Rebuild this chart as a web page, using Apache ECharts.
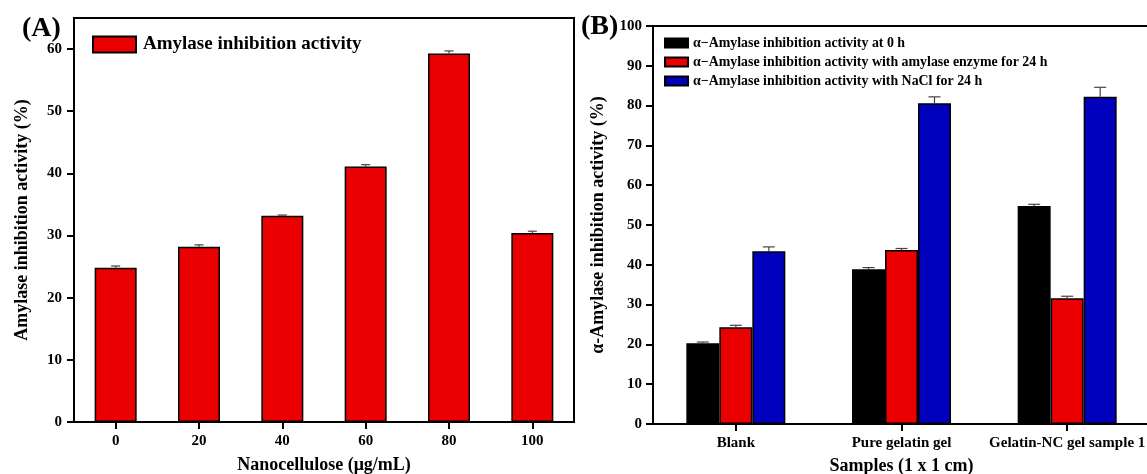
<!DOCTYPE html>
<html lang="en">
<head>
    <meta charset="UTF-8">
    <title>Amylase inhibition</title>
    <script src="https://cdn.jsdelivr.net/npm/echarts@6/dist/echarts.min.js"></script>
    <style>
        html, body { margin: 0; padding: 0; background: #fff; }
        #chart { width: 1147px; height: 474px; }
    </style>
</head>
<body>
<div id="chart"></div>
<script>
    // panel A
    var concLabels = ['0', '20', '40', '60', '80', '100'];
    var amylaseVals = [24.8, 28.2, 33.2, 41.1, 59.3, 30.4];
    var amylaseErr = [0.3, 0.3, 0.1, 0.3, 0.4, 0.3];
    var yTicksA = [0, 10, 20, 30, 40, 50, 60];

    // panel B
    var sampleLabels = ['Blank', 'Pure gelatin gel', 'Gelatin-NC gel sample 1'];
    var seriesNamesB = [
        'α−Amylase inhibition activity at 0 h',
        'α−Amylase inhibition activity with amylase enzyme for 24 h',
        'α−Amylase inhibition activity with NaCl for 24 h'
    ];
    var at0h = [20.3, 38.9, 54.8];
    var withEnzyme = [24.3, 43.7, 31.6];
    var withNaCl = [43.4, 80.6, 82.2];
    var at0hErr = [0.3, 0.4, 0.4];
    var withEnzymeErr = [0.5, 0.4, 0.5];
    var withNaClErr = [1.1, 1.6, 2.4];

    var FONT = '"Liberation Serif", "Times New Roman", serif';
    var chart = echarts.init(document.getElementById('chart'));

    function errSeries(name, xIdx, yIdx, vals, errs, offset, capW) {
        var data = vals.map(function (v, i) { return [i, v, errs[i]]; });
        return {
            name: name,
            type: 'custom',
            xAxisIndex: xIdx,
            yAxisIndex: yIdx,
            data: data,
            z: 5,
            silent: true,
            renderItem: function (params, api) {
                var top = api.coord([api.value(0), api.value(1)]);
                var hi = api.coord([api.value(0), api.value(1) + api.value(2)]);
                var x = top[0] + offset;
                var st = { stroke: '#444', lineWidth: 1.2 };
                return {
                    type: 'group',
                    children: [
                        { type: 'line', shape: { x1: x, y1: top[1], x2: x, y2: hi[1] }, style: st },
                        { type: 'line', shape: { x1: x - capW / 2, y1: hi[1], x2: x + capW / 2, y2: hi[1] }, style: st }
                    ]
                };
            }
        };
    }

    var axisLine = { show: true, lineStyle: { color: '#000', width: 2 } };
    var tickStyle = { show: true, inside: false, length: 7, lineStyle: { color: '#000', width: 2 } };
    var labelStyle = { color: '#000', fontFamily: FONT, fontWeight: 'bold', fontSize: 15 };
    var nameStyle = { color: '#000', fontFamily: FONT, fontWeight: 'bold', fontSize: 18 };

    var barBorder = { borderColor: '#000', borderWidth: 1.5 };

    chart.setOption({
        animation: false,
        backgroundColor: '#fff',
        title: [
            { text: '(A)', left: 17, top: 10, textStyle: { fontFamily: FONT, fontWeight: 'bold', fontSize: 28, color: '#000' } },
            { text: '(B)', left: 576, top: 8, textStyle: { fontFamily: FONT, fontWeight: 'bold', fontSize: 28, color: '#000' } }
        ],
        legend: [
            {
                data: ['Amylase inhibition activity'],
                icon: 'rect',
                left: 92, top: 35, padding: 0,
                itemWidth: 43, itemHeight: 16,
                itemGap: 6,
                textStyle: { fontFamily: FONT, fontWeight: 'bold', fontSize: 19, color: '#000', padding: [0, 0, 0, 2] },
                selectedMode: false
            },
            {
                data: seriesNamesB,
                icon: 'rect',
                orient: 'vertical',
                left: 664, top: 36, padding: 0,
                itemWidth: 23, itemHeight: 9,
                itemGap: 5,
                textStyle: { fontFamily: FONT, fontWeight: 'bold', fontSize: 13.9, color: '#000' },
                selectedMode: false
            }
        ],
        grid: [
            { left: 74, top: 18, right: 573, bottom: 52, outerBoundsMode: 'none', show: true, borderColor: '#000', borderWidth: 2 },
            { left: 653, top: 26, right: -3, bottom: 50, outerBoundsMode: 'none', show: true, borderColor: '#000', borderWidth: 2 }
        ],
        xAxis: [
            {
                type: 'category', gridIndex: 0, data: concLabels,
                axisLine: axisLine,
                axisTick: Object.assign({ alignWithLabel: true }, tickStyle),
                axisLabel: Object.assign({ margin: 12 }, labelStyle),
                name: 'Nanocellulose (μg/mL)', nameLocation: 'middle', nameGap: 34,
                nameTextStyle: nameStyle
            },
            {
                type: 'category', gridIndex: 1, data: sampleLabels,
                axisLine: axisLine,
                axisTick: Object.assign({ alignWithLabel: true }, tickStyle),
                axisLabel: Object.assign({ margin: 12, interval: 0 }, labelStyle),
                name: 'Samples (1 x 1 cm)', nameLocation: 'middle', nameGap: 33,
                nameTextStyle: nameStyle
            }
        ],
        yAxis: [
            {
                type: 'value', gridIndex: 0, min: 0, max: 65, interval: 10,
                axisLine: axisLine,
                axisTick: Object.assign({ customValues: yTicksA }, tickStyle),
                axisLabel: Object.assign({ margin: 12, customValues: yTicksA }, labelStyle),
                splitLine: { show: false },
                name: 'Amylase inhibition activity (%)', nameLocation: 'middle', nameGap: 43,
                nameTextStyle: nameStyle
            },
            {
                type: 'value', gridIndex: 1, min: 0, max: 100, interval: 10,
                axisLine: axisLine,
                axisTick: tickStyle,
                axisLabel: Object.assign({ margin: 11 }, labelStyle),
                splitLine: { show: false },
                name: 'α-Amylase inhibition activity (%)', nameLocation: 'middle', nameGap: 46,
                nameTextStyle: nameStyle
            }
        ],
        series: [
            {
                name: 'Amylase inhibition activity', type: 'bar',
                xAxisIndex: 0, yAxisIndex: 0, data: amylaseVals,
                barWidth: 42,
                itemStyle: Object.assign({ color: '#ea0000' }, barBorder)
            },
            errSeries('errA', 0, 0, amylaseVals, amylaseErr, 0, 9),
            {
                name: seriesNamesB[0], type: 'bar',
                xAxisIndex: 1, yAxisIndex: 1, data: at0h,
                barWidth: 33, barGap: '0%',
                itemStyle: Object.assign({ color: '#000' }, barBorder)
            },
            {
                name: seriesNamesB[1], type: 'bar',
                xAxisIndex: 1, yAxisIndex: 1, data: withEnzyme,
                barWidth: 33, barGap: '0%',
                itemStyle: Object.assign({ color: '#ea0000' }, barBorder)
            },
            {
                name: seriesNamesB[2], type: 'bar',
                xAxisIndex: 1, yAxisIndex: 1, data: withNaCl,
                barWidth: 33, barGap: '0%',
                itemStyle: Object.assign({ color: '#0000bd' }, barBorder)
            },
            errSeries('errB0', 1, 1, at0h, at0hErr, -33, 12),
            errSeries('errB1', 1, 1, withEnzyme, withEnzymeErr, 0, 12),
            errSeries('errB2', 1, 1, withNaCl, withNaClErr, 33, 12)
        ]
    });
</script>
</body>
</html>
